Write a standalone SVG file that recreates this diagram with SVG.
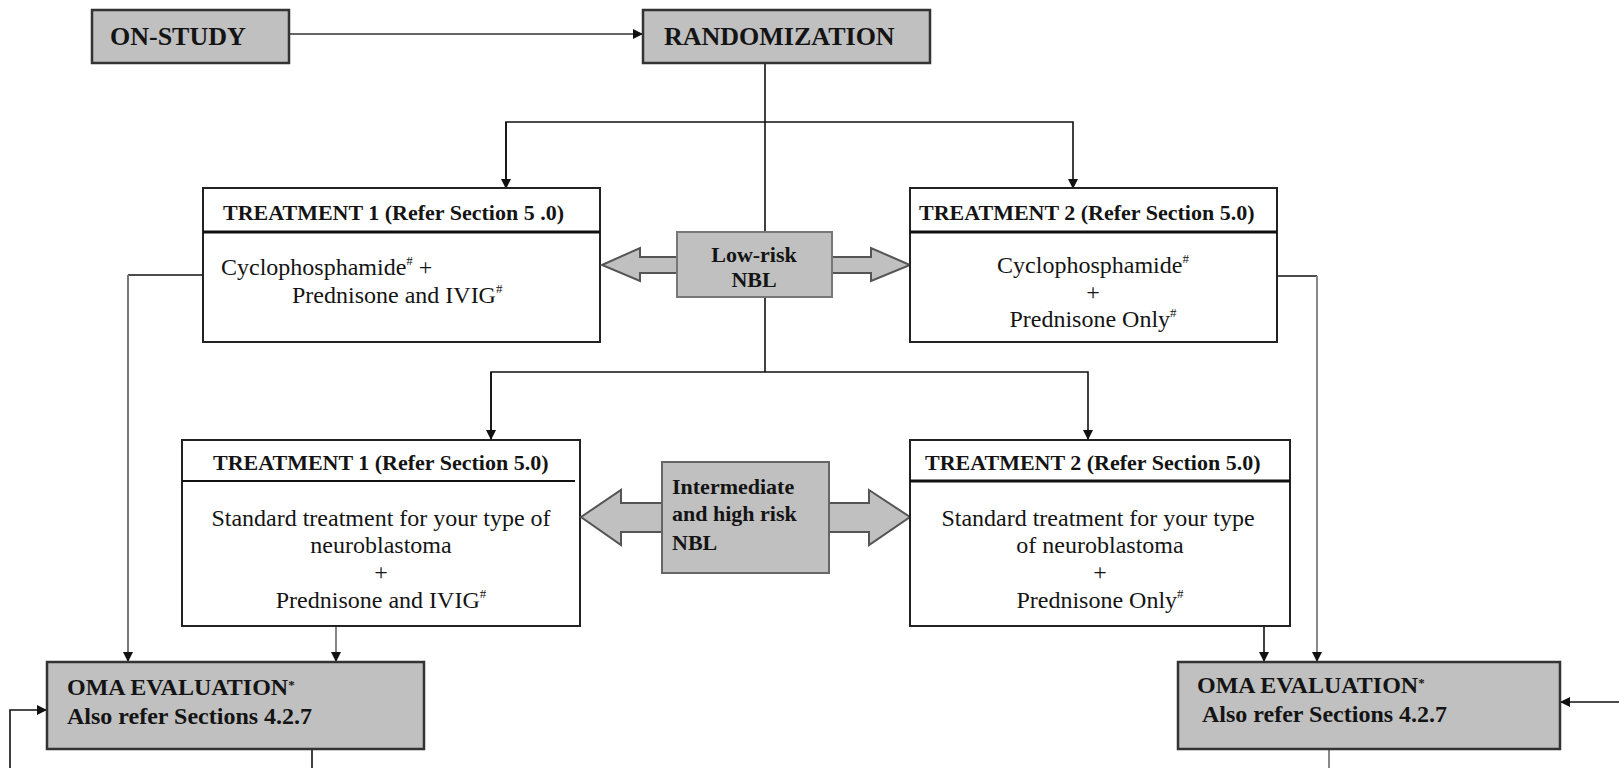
<svg xmlns="http://www.w3.org/2000/svg" width="1619" height="768" viewBox="0 0 1619 768">
<style>
text{font-family:"Liberation Serif","Times New Roman",serif;fill:#141414}
.b{font-weight:bold}
.h{font-size:22px;font-weight:bold}
.t{font-size:24px}
.c{text-anchor:middle}
.box{fill:#fff;stroke:#222;stroke-width:2}
.gbox{fill:#c0c0c0;stroke:#333;stroke-width:2.5}
.ln{fill:none;stroke:#111;stroke-width:1.6}
.gl{fill:none;stroke:#888;stroke-width:2}
.dbl{fill:#c0c0c0;stroke:#555;stroke-width:2}
.sup{font-size:13px}
</style>
<defs>
<marker id="ah" markerWidth="10" markerHeight="10" refX="9" refY="5" orient="auto" markerUnits="userSpaceOnUse">
<path d="M0,0 L10,5 L0,10 z" fill="#111"/>
</marker>
</defs>
<g id="connectors">
<line class="gl" x1="290" y1="34" x2="642" y2="34" marker-end="url(#ah)" style="stroke:#666"/>
<line class="ln" x1="765" y1="64" x2="765" y2="372"/>
<polyline class="ln" points="506,188 506,122 1073,122 1073,188" marker-end="url(#ah)"/>
<line class="ln" x1="506" y1="122" x2="506" y2="188" marker-end="url(#ah)"/>
<polyline class="ln" points="491,439 491,372 1088,372 1088,439" marker-end="url(#ah)"/>
<line class="ln" x1="491" y1="372" x2="491" y2="439" marker-end="url(#ah)"/>
<polyline class="ln" points="203,275 128,275" />
<line class="gl" x1="128" y1="275" x2="128" y2="661" marker-end="url(#ah)" style="stroke:#777"/>
<polyline class="ln" points="1277,276 1317,276"/>
<line class="gl" x1="1317" y1="276" x2="1317" y2="661" marker-end="url(#ah)" style="stroke:#888"/>
<line class="ln" x1="336" y1="626" x2="336" y2="661" marker-end="url(#ah)" style="stroke:#666"/>
<line class="ln" x1="1264" y1="626" x2="1264" y2="661" marker-end="url(#ah)"/>
<polyline class="ln" points="10,768 10,710 46,710" marker-end="url(#ah)"/>
<line class="ln" x1="312" y1="750" x2="312" y2="768"/>
<line class="ln" x1="1619" y1="702" x2="1561" y2="702" marker-end="url(#ah)"/>
<line class="gl" x1="1329" y1="750" x2="1329" y2="768"/>
</g>
<g id="on-study">
<rect class="gbox" x="92" y="10" width="197" height="53"/>
<text class="b" x="110" y="45" style="font-size:26px">ON-STUDY</text>
</g>
<g id="randomization">
<rect class="gbox" x="643" y="10" width="287" height="53"/>
<text class="b" x="664" y="45" style="font-size:26px">RANDOMIZATION</text>
</g>
<g id="treatment1-low">
<rect class="box" x="203" y="188" width="397" height="154"/>
<line x1="203" y1="232" x2="600" y2="232" stroke="#111" stroke-width="3"/>
<text class="h" x="223" y="220">TREATMENT 1 (Refer Section 5 .0)</text>
<text class="t" x="221" y="275">Cyclophosphamide<tspan class="sup" dy="-10">#</tspan><tspan dy="10"> +</tspan></text>
<text class="t" x="292" y="303">Prednisone and IVIG<tspan class="sup" dy="-10">#</tspan></text>
</g>
<g id="low-risk">
<polygon class="dbl" points="602,265 640,248 640,257 871,257 871,248 910,265 871,281 871,273 640,273 640,281"/>
<rect class="gbox" x="677" y="232" width="155" height="65" style="stroke:#777;stroke-width:2"/>
<text class="h c" x="754" y="262">Low-risk</text>
<text class="h c" x="754" y="287">NBL</text>
</g>
<g id="treatment2-low">
<rect class="box" x="910" y="188" width="367" height="154"/>
<line x1="910" y1="232" x2="1277" y2="232" stroke="#111" stroke-width="3"/>
<text class="h" x="919" y="220">TREATMENT 2 (Refer Section 5.0)</text>
<text class="t c" x="1093" y="273">Cyclophosphamide<tspan class="sup" dy="-10">#</tspan></text>
<text class="t c" x="1093" y="300">+</text>
<text class="t c" x="1093" y="327">Prednisone Only<tspan class="sup" dy="-10">#</tspan></text>
</g>
<g id="treatment1-high">
<rect class="box" x="182" y="440" width="398" height="186"/>
<line x1="182" y1="481" x2="575" y2="481" stroke="#111" stroke-width="2"/>
<text class="h" x="213" y="470">TREATMENT 1 (Refer Section 5.0)</text>
<text class="t c" x="381" y="526">Standard treatment for your type of</text>
<text class="t c" x="381" y="553">neuroblastoma</text>
<text class="t c" x="381" y="580">+</text>
<text class="t c" x="381" y="608">Prednisone and IVIG<tspan class="sup" dy="-10">#</tspan></text>
</g>
<g id="intermediate-high">
<polygon class="dbl" points="581,517 621,490 621,503 869,503 869,490 910,517 869,545 869,532 621,532 621,545"/>
<rect class="gbox" x="662" y="462" width="167" height="111" style="stroke:#666;stroke-width:2"/>
<text class="h" x="672" y="494">Intermediate</text>
<text class="h" x="672" y="521">and high risk</text>
<text class="h" x="672" y="550">NBL</text>
</g>
<g id="treatment2-high">
<rect class="box" x="910" y="440" width="380" height="186"/>
<line x1="910" y1="481" x2="1290" y2="481" stroke="#111" stroke-width="3"/>
<text class="h" x="925" y="470">TREATMENT 2 (Refer Section 5.0)</text>
<text class="t c" x="1098" y="526">Standard treatment for your type</text>
<text class="t c" x="1100" y="553">of neuroblastoma</text>
<text class="t c" x="1100" y="580">+</text>
<text class="t c" x="1100" y="608">Prednisone Only<tspan class="sup" dy="-10">#</tspan></text>
</g>
<g id="oma-left">
<rect class="gbox" x="47" y="662" width="377" height="87"/>
<text class="b" x="67" y="695" style="font-size:24px">OMA EVALUATION<tspan class="sup" dy="-6">*</tspan></text>
<text class="b" x="67" y="724" style="font-size:24px">Also refer Sections 4.2.7</text>
</g>
<g id="oma-right">
<rect class="gbox" x="1178" y="662" width="382" height="87"/>
<text class="b" x="1197" y="693" style="font-size:24px">OMA EVALUATION<tspan class="sup" dy="-6">*</tspan></text>
<text class="b" x="1202" y="722" style="font-size:24px">Also refer Sections 4.2.7</text>
</g>
</svg>
